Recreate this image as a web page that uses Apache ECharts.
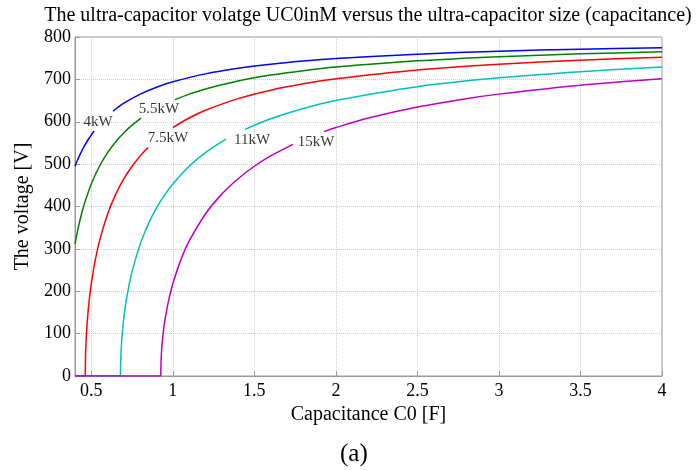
<!DOCTYPE html>
<html>
<head>
<meta charset="utf-8">
<script src="https://cdn.jsdelivr.net/npm/echarts@6/dist/echarts.min.js"></script>
<style>html,body{margin:0;padding:0;background:#fff}#c{width:699px;height:470px}</style>
</head>
<body>
<div id="c"></div>
<script>
// Capacitance values (x) and voltages (y); null = break (label gap or corner)
var x4 = [0.40,0.42,0.45,0.48,0.50,0.517,0.575,0.633,0.70,0.80,0.90,1.00,1.20,1.40,1.60,1.80,2.00,2.50,3.00,3.50,4.00];
var y4 = [495.0,513.6,537.5,557.5,569.2,578.3,null,624.8,643.7,665.2,681.5,694.3,713.0,726.0,735.7,743.1,749.0,759.5,766.4,771.3,774.9];

var x55 = [0.40,0.42,0.44,0.46,0.50,0.55,0.60,0.65,0.70,0.75,0.805,0.91,1.013,1.10,1.20,1.40,1.60,1.80,2.00,2.50,3.00,3.50,4.00];
var y55 = [311.2,350.3,382.4,409.5,453.3,495.0,527.2,553.0,574.1,591.9,608.4,null,652.3,665.2,677.5,696.3,710.1,720.6,729.0,743.7,753.4,760.2,765.3];

var x75 = [0.40,0.4629,0.4629,0.4629,0.465,0.47,0.48,0.49,0.50,0.52,0.55,0.60,0.65,0.70,0.75,0.80,0.848,0.92,1.00,1.10,1.20,1.40,1.60,1.80,2.00,2.50,3.00,3.50,4.00];
var y75 = [0,0,null,0,53.9,98.4,151.0,188.2,217.9,265.1,318.4,382.4,429.2,465.6,495.0,519.3,539.1,null,586.3,608.8,627.0,654.5,674.4,689.5,701.3,722.2,735.7,745.2,752.3];

var x11 = [0.40,0.6789,0.6789,0.6789,0.68,0.685,0.69,0.70,0.72,0.75,0.80,0.85,0.90,0.95,1.00,1.10,1.20,1.326,1.38,1.443,1.60,1.80,2.00,2.50,3.00,3.50,4.00];
var y11 = [0,0,null,0,32.1,75.5,101.4,138.9,191.1,246.3,311.2,358.9,396.5,427.4,453.3,495.0,527.2,558.9,null,582.1,607.0,631.4,650.2,682.8,703.7,718.2,729.0];

var x15 = [0.40,0.9258,0.9258,0.9258,0.93,0.94,0.95,0.97,1.00,1.05,1.10,1.20,1.30,1.40,1.50,1.60,1.737,1.83,1.928,2.00,2.20,2.50,2.80,3.00,3.50,4.00];
var y15 = [0,0,null,0,53.9,98.4,127.7,170.8,217.9,275.2,318.4,382.4,429.2,465.6,495.0,519.3,546.7,null,576.8,586.3,608.8,634.8,654.5,665.2,686.1,701.3];

var seriesNames = ['4kW','5.5kW','7.5kW','11kW','15kW'];
var labelX = [0.541,0.915,0.970,1.486,1.879];
var labelY = [599,630,561,557,552];

var seriesColors = ['#0000ff','#008000','#ff0000','#00bfbf','#bf00bf'];

function pairs(xs, ys){ var out=[]; for(var i=0;i<xs.length;i++){ out.push([xs[i], ys[i]===null ? '-' : ys[i]]); } return out; }

var xsAll = [x4,x55,x75,x11,x15];
var ysAll = [y4,y55,y75,y11,y15];
var FONT = 'Liberation Serif';

var series = [];
for (var i=0;i<5;i++){
  series.push({
    name: seriesNames[i], type:'line', data: pairs(xsAll[i], ysAll[i]),
    showSymbol:false, connectNulls:false, smooth:0.3,
    lineStyle:{color:seriesColors[i], width:1.5}, itemStyle:{color:seriesColors[i]},
    silent:true, animation:false, z: 3+i
  });
}
var labelData = [];
for (var j=0;j<5;j++){ labelData.push({name: seriesNames[j], value:[labelX[j], labelY[j]]}); }
series.push({
  type:'scatter', data: labelData, symbolSize:0, silent:true, animation:false, z:10,
  label:{show:true, position:'inside', formatter:function(p){return p.name;}, color:'#000', fontFamily:FONT, fontSize:15}
});

var chart = echarts.init(document.getElementById('c'), null, {renderer:'canvas'});
chart.setOption({
  animation:false,
  backgroundColor:'#fff',
  title:{ text:'The ultra-capacitor volatge UC0inM versus the ultra-capacitor size (capacitance)', left:363, textAlign:'center', top:1,
    textStyle:{fontFamily:FONT, fontSize:20, fontWeight:'normal', color:'#000'} },
  grid:{ left:75, right:37, top:37, bottom:94, show:true, borderColor:'#999', borderWidth:1 },
  xAxis:{ type:'value', min:0.4, max:4, splitNumber:8, minInterval:0.5, maxInterval:0.5,
    name:'Capacitance C0 [F]', nameLocation:'middle', nameGap:25,
    nameTextStyle:{fontFamily:FONT, fontSize:20, color:'#000'},
    axisLine:{show:true, lineStyle:{color:'#999'}},
    axisTick:{show:true, inside:true, length:5, lineStyle:{color:'#999'}},
    axisLabel:{showMinLabel:false, fontFamily:FONT, fontSize:18, color:'#000', margin:6},
    splitLine:{show:true, lineStyle:{color:'#ccc', type:'dotted'}} },
  yAxis:{ type:'value', min:0, max:800, interval:100,
    name:'The voltage [V]', nameLocation:'middle', nameGap:42,
    nameTextStyle:{fontFamily:FONT, fontSize:20, color:'#000'},
    axisLine:{show:true, lineStyle:{color:'#999'}},
    axisTick:{show:true, inside:true, length:5, lineStyle:{color:'#999'}},
    axisLabel:{fontFamily:FONT, fontSize:18, color:'#000', margin:4},
    splitLine:{show:true, lineStyle:{color:'#ccc', type:'dotted'}} },
  graphic:[{ type:'text', left:340, top:442, style:{text:'(a)', fontFamily:FONT, fontSize:25, fill:'#000'} }],
  series: series
});
</script>
</body>
</html>
